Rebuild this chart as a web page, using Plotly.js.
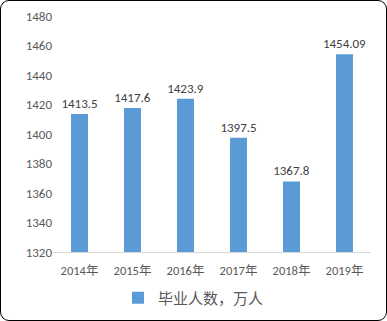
<!DOCTYPE html>
<html><head><meta charset="utf-8">
<script src="https://cdn.plot.ly/plotly-3.0.1.min.js"></script>
<style>
html,body{margin:0;padding:0;background:#fff;}
#wrap{position:absolute;left:0;top:0;width:387px;height:321px;box-sizing:border-box;border:1px solid #000;border-radius:9px;overflow:hidden;}
#chart{position:absolute;left:-1px;top:-1px;width:387px;height:321px;}
</style></head>
<body><div id="wrap"><div id="chart"></div></div>
<script>
const years = ['2014年','2015年','2016年','2017年','2018年','2019年'];
const graduates = [1413.5, 1417.6, 1423.9, 1397.5, 1367.8, 1454.09];
const labels = ['1413.5','1417.6','1423.9','1397.5','1367.8','1454.09'];
const seriesName = '毕业人数，万人';
const font = 'Calibri, Carlito, "Noto Sans CJK SC", sans-serif';
Plotly.newPlot('chart', [{
  type:'bar', x: years, y: graduates, name: seriesName,
  text: labels, textposition:'outside', cliponaxis:false, constraintext:'none',
  textfont:{family:font, size:13, color:'#404040'},
  marker:{color:'#5B9BD5'}, width:0.32
}], {
  width:387, height:321, paper_bgcolor:'rgba(0,0,0,0)', plot_bgcolor:'rgba(0,0,0,0)',
  margin:{l:53,r:16,t:16,b:69, autoexpand:false},
  font:{family:font, size:12, color:'#595959'},
  showlegend:true,
  legend:{orientation:'h', xref:'container', x:0.5, xanchor:'center', yref:'container', y:0.02, yanchor:'bottom', font:{size:15, color:'#595959'}},
  xaxis:{showline:true, linecolor:'#D9D9D9', linewidth:1, ticks:'', tickfont:{size:12.5}, ticklabelstandoff:7, showgrid:false, automargin:false},
  yaxis:{range:[1320,1480], dtick:20, showgrid:false, zeroline:false, showline:false, tickfont:{size:13}, automargin:false}
}, {displayModeBar:false, staticPlot:true});
</script></body></html>
